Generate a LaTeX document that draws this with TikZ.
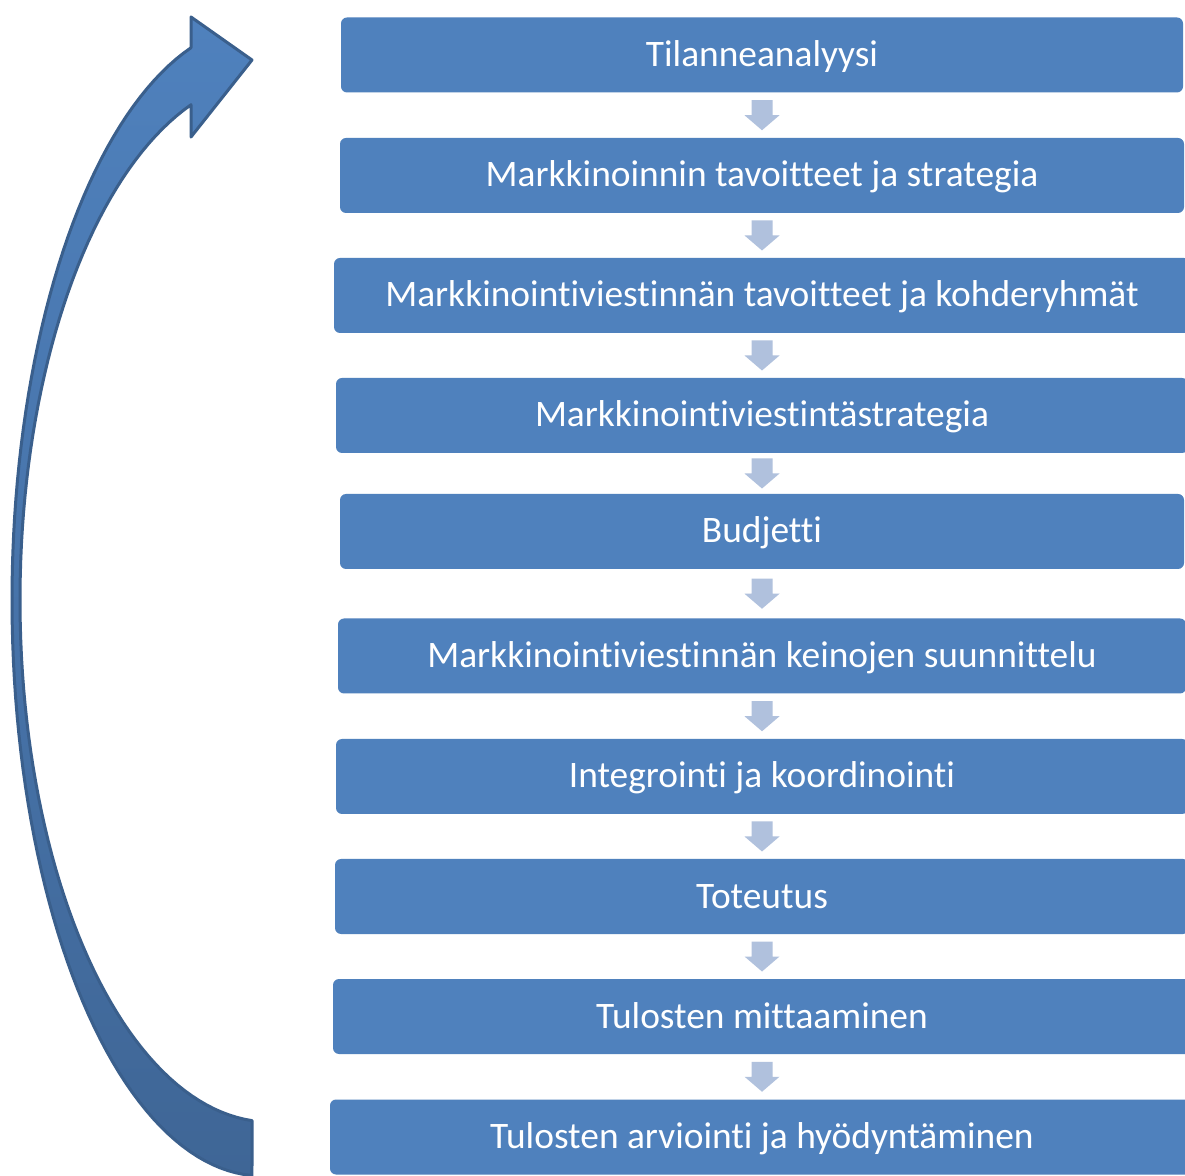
\documentclass[tikz,border=0pt]{standalone}
\usepackage{fontspec}
\setmainfont{Carlito}[Ligatures={NoCommon,NoContextual}]
\usetikzlibrary{calc}
\definecolor{boxblue}{HTML}{4F81BD}
\definecolor{arrowgray}{HTML}{B0C1DD}
\definecolor{bigedge}{HTML}{3A5F8C}
\definecolor{bigdark}{HTML}{3F6696}
\tikzset{
  stepbox/.style={fill=boxblue, rounded corners=3pt, minimum height=37.5pt,
    text=white, inner sep=0pt, text height=15pt, text depth=3.5pt,
    font=\fontsize{18.7}{22}\selectfont},
  downarrow/.style={fill=arrowgray, draw=none},
  bigarrow/.style={top color=boxblue, bottom color=bigdark, draw=bigedge,
    line width=1.5pt, line join=round}
}
\begin{document}
\begin{tikzpicture}[x=0.5pt,y=-0.5pt]
\useasboundingbox (0,0) rectangle (1185,1176);
\clip (0,0) rectangle (1185,1176);
\fill[white] (0,0) rectangle (1185,1176);

\node[stepbox, minimum width=421pt] (b1) at (762,55) {Tilanneanalyysi};
\node[stepbox, minimum width=422pt] (b2) at (762,175.5) {Markkinoinnin tavoitteet ja strategia};
\node[stepbox, minimum width=428pt] (b3) at (762,295.5) {Markkinointiviestinnän tavoitteet ja kohderyhmät};
\node[stepbox, minimum width=426pt] (b4) at (762,415.5) {Markkinointiviestintästrategia};
\node[stepbox, minimum width=422pt] (b5) at (762,531.5) {Budjetti};
\node[stepbox, minimum width=424pt] (b6) at (762,656) {Markkinointiviestinnän keinojen suunnittelu};
\node[stepbox, minimum width=426pt] (b7) at (762,776.5) {Integrointi ja koordinointi};
\node[stepbox, minimum width=427pt] (b8) at (762,896.5) {Toteutus};
\node[stepbox, minimum width=429pt] (b9) at (762,1016.5) {Tulosten mittaaminen};
\node[stepbox, minimum width=432pt] (b10) at (762,1137) {Tulosten arviointi ja hyödyntäminen};

\foreach \a/\b in {b1/b2,b2/b3,b3/b4,b4/b5,b5/b6,b6/b7,b7/b8,b8/b9,b9/b10}{
  \coordinate (m-\a) at ($(\a.south)!0.5!(\b.north)$);
  \fill[downarrow, shift={(m-\a)}] (-10.5,-15) -- (10.5,-15) -- (10.5,0) -- (17.5,0)
    -- (0,15) -- (-17.5,0) -- (-10.5,0) -- cycle;
}

\path[bigarrow]
  plot[domain=92.3:253.5, samples=90, variable=\t] ({262+250*cos(\t)}, {600+576*sin(\t)})
  -- (191,17) -- (252,60) -- (191,137) -- (191,105)
  -- plot[domain=251.6:94.1, samples=90, variable=\t] ({270+250*cos(\t)}, {600+522*sin(\t)})
  -- cycle;
\end{tikzpicture}
\end{document}
